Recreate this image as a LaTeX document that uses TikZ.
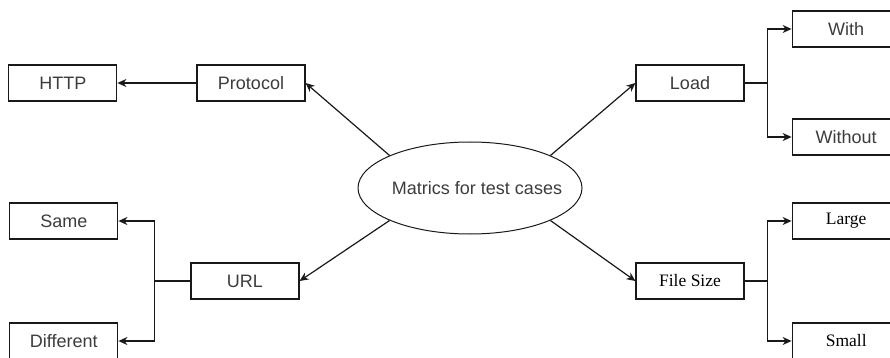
\documentclass[tikz,border=0pt]{standalone}
\usepackage{fontspec}
\setmainfont{Liberation Serif}
\setsansfont{Liberation Sans}
\usetikzlibrary{shapes.geometric,arrows.meta,positioning}
\definecolor{boxline}{RGB}{25, 25, 25}
\definecolor{labelgray}{RGB}{60, 60, 60}

\begin{document}
\begin{tikzpicture}[
    x=1pt, y=-1pt,
    box/.style={
        rectangle, draw=boxline, line width=1.2pt, fill=white,
        minimum width=108pt, minimum height=36pt, inner sep=0pt,
        font=\fontsize{18}{21}\selectfont\sffamily, text=labelgray
    },
    serifbox/.style={box, font=\fontsize{17.5}{20}\selectfont\rmfamily, text=black},
    hub/.style={
        ellipse, draw=boxline, line width=1pt, minimum width=224pt, minimum height=92pt,
        inner xsep=-35pt, inner ysep=0pt, font=\fontsize{18}{21}\selectfont\sffamily, text=labelgray
    },
    link/.style={draw=boxline, line width=1.2pt, -{Stealth[length=9pt, width=8pt]}}
]
    \path[use as bounding box, clip] (0,0) rectangle (890,358);

    \node[hub] (metrics) at (470,188) {\hspace*{14pt}Matrics for test cases};
    \node[box] (protocol) at (251,83) {Protocol};
    \node[box] (url) at (245,281) {URL};
    \node[box] (load) at (690,83) {Load};
    \node[serifbox] (filesize) at (690,281) {File Size};

    \node[box, left=79pt of protocol] (http) {HTTP};
    \node[box, left=72pt of url, yshift=60pt] (same) {Same};
    \node[box, left=72pt of url, yshift=-60pt] (different) {Different};
    \node[box, right=47pt of load, yshift=54pt] (with) {With};
    \node[box, right=47pt of load, yshift=-54pt] (without) {Without};
    \node[serifbox, right=47pt of filesize, yshift=60pt] (large) {Large};
    \node[serifbox, right=47pt of filesize, yshift=-60pt] (small) {Small};

    % from the centre
    \draw[link] (metrics.158) -- (protocol.east);
    \draw[link] (metrics.22) -- (load.west);
    \draw[link] (metrics.202) -- (url.east);
    \draw[link] (metrics.338) -- (filesize.west);

    % second level
    \draw[link] (protocol) -- (http);
    \draw[link] (url.west) -- ++(-36,0) coordinate (urlj) |- (same.east);
    \draw[link] (urlj) |- (different.east);
    \draw[link] (load.east) -- ++(23,0) coordinate (loadj) |- (with.west);
    \draw[link] (loadj) |- (without.west);
    \draw[link] (filesize.east) -- ++(23,0) coordinate (sizej) |- (large.west);
    \draw[link] (sizej) |- (small.west);
\end{tikzpicture}
\end{document}
